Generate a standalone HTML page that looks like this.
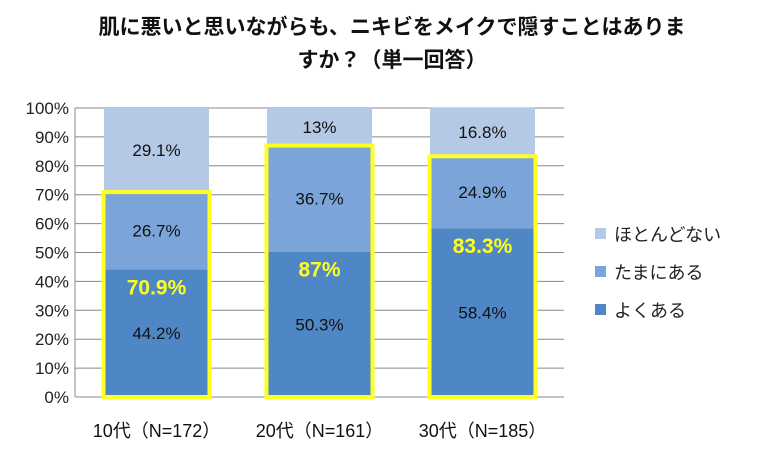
<!DOCTYPE html>
<html><head><meta charset="utf-8"><style>
body{margin:0;background:#fff;}
svg text{font-family:"Liberation Sans","Noto Sans CJK JP",sans-serif;}
</style></head><body>
<svg width="762" height="455">
<text x="392" y="34" text-anchor="middle" font-size="21" font-weight="bold" fill="#111">肌に悪いと思いながらも、ニキビをメイクで隠すことはありま</text>
<text x="392" y="67" text-anchor="middle" font-size="21" font-weight="bold" fill="#111">すか？（単一回答）</text>
<g id="grid"></g><g id="bars"></g><g id="labels"></g>
<g>
<rect x="595" y="228" width="11" height="11" fill="#b4c9e5"/>
<text x="614" y="241" font-size="18" fill="#222">ほとんどない</text>
<rect x="595" y="266" width="11" height="11" fill="#7ba5d8"/>
<text x="614" y="279" font-size="18" fill="#222">たまにある</text>
<rect x="595" y="304" width="11" height="11" fill="#4f87c6"/>
<text x="614" y="317" font-size="18" fill="#222">よくある</text>
</g>
</svg>
<script>
const categories=["10代（N=172）","20代（N=161）","30代（N=185）"];
const often=[44.2,50.3,58.4];
const sometimes=[26.7,36.7,24.9];
const rarely=[29.1,13,16.8];
const totals=["70.9%","87%","83.3%"];
const ticks=[0,10,20,30,40,50,60,70,80,90,100];
const NS="http://www.w3.org/2000/svg";
const L=75,R=564,T=108,B=397;
const y=v=>B-(B-T)*v/100;
const bw=(R-L)/categories.length;
const cx=i=>L+bw*(i+0.5);
function mk(tag,attrs,parent,txt){const e=document.createElementNS(NS,tag);for(const k in attrs)e.setAttribute(k,attrs[k]);if(txt!==undefined)e.textContent=txt;parent.appendChild(e);return e;}
const grid=document.getElementById('grid'),bars=document.getElementById('bars'),labels=document.getElementById('labels');
ticks.forEach(t=>{
 const l=mk('line',{x1:L,x2:R,y1:y(t),y2:y(t),stroke:'#888','stroke-width':1},grid);
 
 
 const tx=mk('text',{x:L-6,y:y(t)+6,'text-anchor':'end','font-size':17,fill:'#222'},grid,t+'%');
 
 
});
const ax=mk('line',{x1:L,x2:L,y1:T,y2:B,stroke:'#888'},grid);


const series=[[often,'#4f87c6','often'],[sometimes,'#7ba5d8','sometimes'],[rarely,'#b4c9e5','rarely']];
categories.forEach((c,i)=>{
 let base=0;const x0=cx(i)-52.5;
 series.forEach(([arr,col,nm])=>{
  const v=arr[i];
  const r=mk('rect',{x:x0,y:y(base+v),width:105,height:y(base)-y(base+v),fill:col},bars);
  
  
  const t=mk('text',{x:cx(i),y:(y(base)+y(base+v))/2+6,'text-anchor':'middle','font-size':17,fill:'#111'},labels,v+'%');
  
  
  base+=v;
 });
 const tot=often[i]+sometimes[i];
 const hb=mk('rect',{x:x0-0.5,y:y(tot),width:106,height:y(0)-y(tot),fill:'none',stroke:'#ffff20','stroke-width':4},labels);
 
 
 const tt=mk('text',{x:cx(i),y:y(often[i])+25,'text-anchor':'middle','font-size':21,'font-weight':'bold',fill:'#ffff20'},labels,totals[i]);
 
 
 const xl=mk('text',{x:cx(i),y:437,'text-anchor':'middle','font-size':18,fill:'#111'},labels,c);
 
 
});
</script>
</body></html>
